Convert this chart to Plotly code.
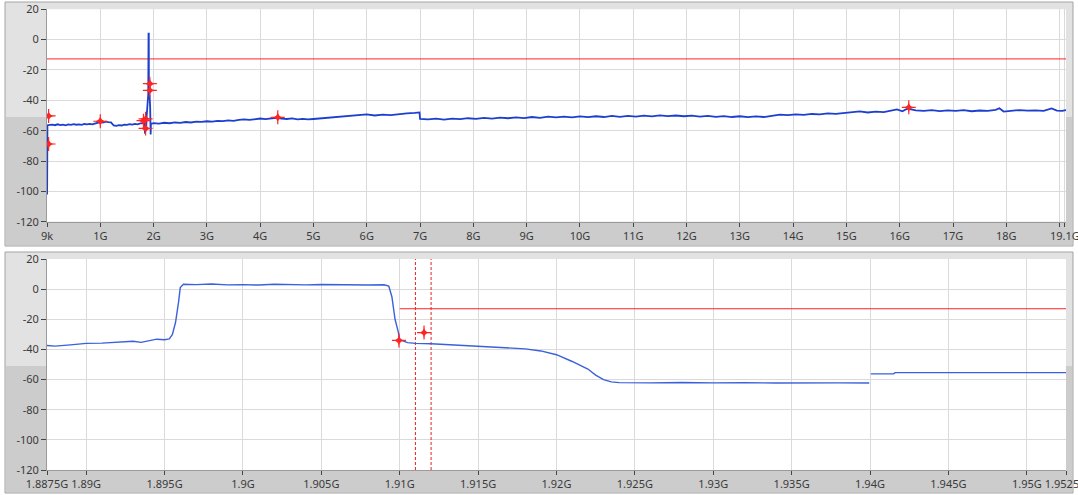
import plotly.graph_objects as go

W, H = 1078, 495

# ---- 상단: 9k ~ 19.1G 전체 스펙트럼 (GHz, dBm)
top_f = [0.000009, 0.001, 0.002, 0.003, 0.004, 0.005, 0.006, 0.008,
         0.05, 0.10, 0.15, 0.20, 0.25, 0.30, 0.35, 0.40, 0.45, 0.50, 0.55, 0.60, 0.65, 0.70,
         0.75, 0.80, 0.85, 0.90, 0.95, 1.00, 1.05, 1.10, 1.15, 1.20, 1.25, 1.30, 1.35, 1.40,
         1.45, 1.50, 1.55, 1.60, 1.65, 1.70, 1.75, 1.80, 1.82, 1.83, 1.84, 1.85, 1.86, 1.87,
         1.88, 1.89, 1.90, 1.905, 1.910, 1.912, 1.925, 1.935, 1.945, 1.95,
         2.00, 2.10, 2.20, 2.30, 2.40, 2.50, 2.60, 2.70, 2.80, 2.90, 3.00, 3.10, 3.20, 3.30,
         3.40, 3.50, 3.60, 3.70, 3.80, 3.90, 4.00, 4.10, 4.20, 4.30, 4.40, 4.50, 4.60, 4.70,
         4.80, 4.90, 5.00, 5.20, 5.40, 5.60, 5.80, 6.00, 6.15, 6.30, 6.45, 6.60, 6.75, 6.90,
         6.99, 7.00, 7.15, 7.30, 7.45, 7.60, 7.75, 7.90, 8.05, 8.20, 8.35, 8.50, 8.65, 8.80,
         8.95, 9.10, 9.25, 9.40, 9.55, 9.70, 9.85, 10.00, 10.15, 10.30, 10.45, 10.60, 10.75,
         10.90, 11.05, 11.20, 11.35, 11.50, 11.65, 11.80, 11.95, 12.10, 12.25, 12.40, 12.55,
         12.70, 12.85, 13.00, 13.15, 13.30, 13.45, 13.60, 13.75, 13.90, 14.05, 14.20, 14.35,
         14.50, 14.65, 14.80, 14.95, 15.10, 15.25, 15.40, 15.55, 15.70, 15.85, 15.95, 16.05,
         16.15, 16.30, 16.45, 16.60, 16.75, 16.90, 17.05, 17.20, 17.35, 17.50, 17.65, 17.80,
         17.87, 17.95, 18.10, 18.25, 18.40, 18.55, 18.70, 18.85, 18.95, 19.05, 19.12]
top_dbm = [-56.5, -72.0, -102.0, -74.0, -86.0, -70.0, -80.0, -56.5,
           -56.2, -56.0, -56.4, -55.8, -56.3, -56.0, -56.5, -55.9, -56.2, -55.7, -56.1, -55.8, -56.2, -55.6,
           -55.9, -55.5, -55.8, -55.2, -54.8, -54.3, -54.6, -54.0, -54.4, -54.6, -56.5, -56.8, -56.3, -56.6,
           -56.0, -56.2, -55.7, -56.0, -55.5, -55.8, -55.2, -55.0, -53.5, -58.5, -62.0, -52.0, -60.0, -50.5,
           -44.0, -37.0, -36.0, 4.0, 4.0, -36.0, -37.0, -44.0, -62.5, -55.5,
           -55.0, -55.3, -54.8, -55.1, -54.6, -54.9, -54.3, -54.6, -54.0, -54.2, -53.8, -54.0, -53.5, -53.7,
           -53.2, -53.5, -52.9, -52.6, -52.9, -52.3, -52.0, -52.4, -51.8, -51.5, -52.0, -52.3, -51.9, -52.5,
           -52.2, -52.6, -52.3, -51.8, -51.0, -50.4, -49.8, -49.3, -50.0, -49.4, -49.8, -49.0, -48.6, -48.3,
           -48.0, -52.2, -52.6, -52.1, -52.7, -52.0, -52.4, -51.8, -52.2, -51.6, -52.0, -51.4, -51.8, -51.2,
           -51.7, -51.0, -51.5, -50.8, -51.3, -50.7, -51.2, -50.6, -51.1, -50.5, -51.0, -50.3, -50.9,
           -50.2, -50.7, -50.1, -50.6, -49.9, -50.4, -50.0, -50.5, -50.1, -50.7, -50.3, -50.9,
           -50.4, -51.0, -50.5, -51.1, -50.6, -51.0, -50.2, -49.4, -49.8, -49.3, -49.6, -49.0,
           -49.2, -48.6, -48.9, -48.2, -47.9, -47.3, -48.0, -47.5, -47.8, -46.7, -46.0, -47.2,
           -45.4, -46.6, -47.0, -46.5, -47.1, -46.6, -47.0, -46.4, -47.2, -46.7, -47.0, -46.3,
           -45.2, -47.4, -47.0, -46.4, -46.8, -46.6, -47.0, -45.3, -46.8, -47.0, -46.4]
top_mk_f = [0.03, 0.03, 1.00, 1.81, 1.85, 1.85, 1.93, 1.93, 4.33, 16.17]
top_mk_dbm = [-50.3, -68.8, -53.8, -53.4, -52.2, -58.5, -29.0, -33.4, -51.2, -44.6]
top_limit_f = [0.0, 19.12]
top_limit_dbm = [-12.7, -12.7]
top_tickvals = [0, 1, 2, 3, 4, 5, 6, 7, 8, 9, 10, 11, 12, 13, 14, 15, 16, 17, 18, 19, 19.1]
top_ticktext = ["9k", "1G", "2G", "3G", "4G", "5G", "6G", "7G", "8G", "9G", "10G", "11G",
                "12G", "13G", "14G", "15G", "16G", "17G", "18G", "", "19.1G"]

# ---- 하단: 1.8875G ~ 1.9525G 확대
bot_f = [1.8875, 1.888, 1.889, 1.890, 1.891, 1.892, 1.893, 1.8935, 1.894, 1.8945, 1.895,
         1.8953, 1.8955, 1.8957, 1.8959, 1.896, 1.8962, 1.897, 1.898, 1.899, 1.900, 1.901,
         1.902, 1.903, 1.904, 1.905, 1.906, 1.907, 1.908, 1.909, 1.9093, 1.9095, 1.9097,
         1.9099, 1.910, 1.9105, 1.911, 1.912, 1.913, 1.914, 1.915, 1.916, 1.917, 1.918,
         1.919, 1.920, 1.921, 1.922, 1.9225, 1.923, 1.9235, 1.924, 1.926, 1.928, 1.930,
         1.932, 1.934, 1.936, 1.938, 1.93995, None,
         1.94005, 1.9415, 1.9416, 1.9475, 1.9476, 1.9505, 1.9506, 1.9525]
bot_dbm = [-37.4, -37.8, -37.0, -36.0, -35.8, -35.0, -34.6, -35.3, -34.2, -33.2, -33.6,
           -33.0, -30.0, -22.0, -8.0, 1.0, 3.2, 3.0, 3.4, 2.8, 3.0, 2.7,
           3.2, 2.9, 2.8, 3.1, 3.0, 2.6, 2.7, 2.9, 2.0, -5.0, -20.0,
           -28.0, -33.5, -35.5, -36.0, -36.2, -36.8, -37.2, -37.8, -38.2, -38.8, -39.6,
           -41.0, -43.5, -48.0, -53.0, -57.0, -60.0, -61.5, -62.0, -62.2, -61.9, -62.2,
           -62.0, -62.3, -62.1, -62.2, -62.3, None,
           -56.2, -56.2, -55.4, -55.4, -55.8, -55.8, -55.4, -55.4]
bot_mk_f = [1.90995, 1.91155]
bot_mk_dbm = [-34.0, -28.8]
bot_limit_f = [1.91, 1.9525]
bot_limit_dbm = [-13.0, -13.0]
bot_cursors = [1.911, 1.912]
bot_tickvals = [1.8875, 1.89, 1.895, 1.9, 1.905, 1.91, 1.915, 1.92, 1.925, 1.93, 1.935,
                1.94, 1.945, 1.95, 1.9525]
bot_ticktext = ["1.8875G", "1.89G", "1.895G", "1.9G", "1.905G", "1.91G", "1.915G", "1.92G",
                "1.925G", "1.93G", "1.935G", "1.94G", "1.945G", "1.95G", "1.9525G"]

y_vals = [20, 0, -20, -40, -60, -80, -100, -120]
y_text = ["20", "0", "-20", "-40", "-60", "-80", "-100", "-120"]

RED = "#ff2424"


def px(x, y):
    return x / W, 1 - y / H


def add_markers(fig, xs, ys, xa, ya):
    # 가는 십자 + 가운데 작은 별 모양 마커
    fig.add_trace(go.Scatter(x=xs, y=ys, mode="markers", xaxis=xa, yaxis=ya,
                  marker=dict(symbol="cross-thin-open", size=10, color=RED,
                              line=dict(color=RED, width=1.2))))
    fig.add_trace(go.Scatter(x=xs, y=ys, mode="markers", xaxis=xa, yaxis=ya,
                  marker=dict(symbol="star-diamond", size=7, color=RED, line=dict(width=0))))


fig = go.Figure()
fig.add_trace(go.Scatter(x=top_limit_f, y=top_limit_dbm, mode="lines",
              line=dict(color=RED, width=1), xaxis="x", yaxis="y"))
fig.add_trace(go.Scatter(x=top_f, y=top_dbm, mode="lines",
              line=dict(color="#1c3fcf", width=1.8), xaxis="x", yaxis="y"))
add_markers(fig, top_mk_f, top_mk_dbm, "x", "y")

fig.add_trace(go.Scatter(x=bot_limit_f, y=bot_limit_dbm, mode="lines",
              line=dict(color=RED, width=1), xaxis="x2", yaxis="y2"))
for cx in bot_cursors:
    fig.add_trace(go.Scatter(x=[cx, cx], y=[-120, 20], mode="lines",
                  line=dict(color="#e82020", width=1, dash="3px,2px"), xaxis="x2", yaxis="y2"))
fig.add_trace(go.Scatter(x=bot_f, y=bot_dbm, mode="lines", connectgaps=False,
              line=dict(color="#3b60dc", width=1.4), xaxis="x2", yaxis="y2"))
add_markers(fig, bot_mk_f, bot_mk_dbm, "x2", "y2")

# 패널 배경 (LabVIEW 스타일 회색 프레임) + 흰 플롯 영역
shapes = []
for top, split, bottom, pt, pb in [(2, 117, 246, 9.3, 221.7), (252, 366, 493, 259, 470)]:
    x0, y0 = px(5, bottom)
    x1, y1 = px(1073, top)
    shapes.append(dict(type="rect", xref="paper", yref="paper", x0=x0, x1=x1, y0=y0, y1=y1,
                       fillcolor="#e2e2e2", line=dict(color="#a3a3a3", width=1), layer="below"))
    x0, y0 = px(6, bottom - 1)
    x1, y1 = px(1072, split)
    shapes.append(dict(type="rect", xref="paper", yref="paper", x0=x0, x1=x1, y0=y0, y1=y1,
                       fillcolor="#cccccc", line=dict(width=0), layer="below"))
    x0, y0 = px(47, pb)
    x1, y1 = px(1066, pt)
    shapes.append(dict(type="rect", xref="paper", yref="paper", x0=x0, x1=x1, y0=y0, y1=y1,
                       fillcolor="white", line=dict(width=0), layer="below"))

axis_font = dict(family="Noto Sans, Open Sans, sans-serif", size=11, color="#3a3a3a")
xdom = [47 / W, 1066 / W]
common_x = dict(domain=xdom, showgrid=True, gridcolor="#dadada", gridwidth=1, zeroline=False,
                ticks="outside", ticklen=4, tickcolor="#444", tickfont=axis_font,
                showline=True, linecolor="#9a9a9a", mirror=False, automargin=False,
                ticklabeloverflow="allow")
common_y = dict(range=[-120, 20], tickvals=y_vals, ticktext=y_text, showgrid=True,
                gridcolor="#dadada", gridwidth=1, zeroline=False, ticks="outside", ticklen=5,
                tickcolor="#444", tickfont=axis_font, showline=True, linecolor="#9a9a9a",
                automargin=False)

fig.update_layout(
    width=W, height=H, margin=dict(l=0, r=0, t=0, b=0, autoexpand=False), showlegend=False,
    paper_bgcolor="white", plot_bgcolor="rgba(0,0,0,0)", shapes=shapes,
    xaxis=dict(common_x, range=[0, 19.12], tickvals=top_tickvals, ticktext=top_ticktext,
               anchor="y"),
    yaxis=dict(common_y, domain=[1 - 221.7 / H, 1 - 9.3 / H], anchor="x"),
    xaxis2=dict(common_x, range=[1.8875, 1.9525], tickvals=bot_tickvals, ticktext=bot_ticktext,
                anchor="y2"),
    yaxis2=dict(common_y, domain=[1 - 470 / H, 1 - 259 / H], anchor="x2"),
)

# 페이지 기본 body 여백(8px) 제거
fig.write_html("out.html", config={"displayModeBar": False},
               post_script="document.body.style.margin='0';")
